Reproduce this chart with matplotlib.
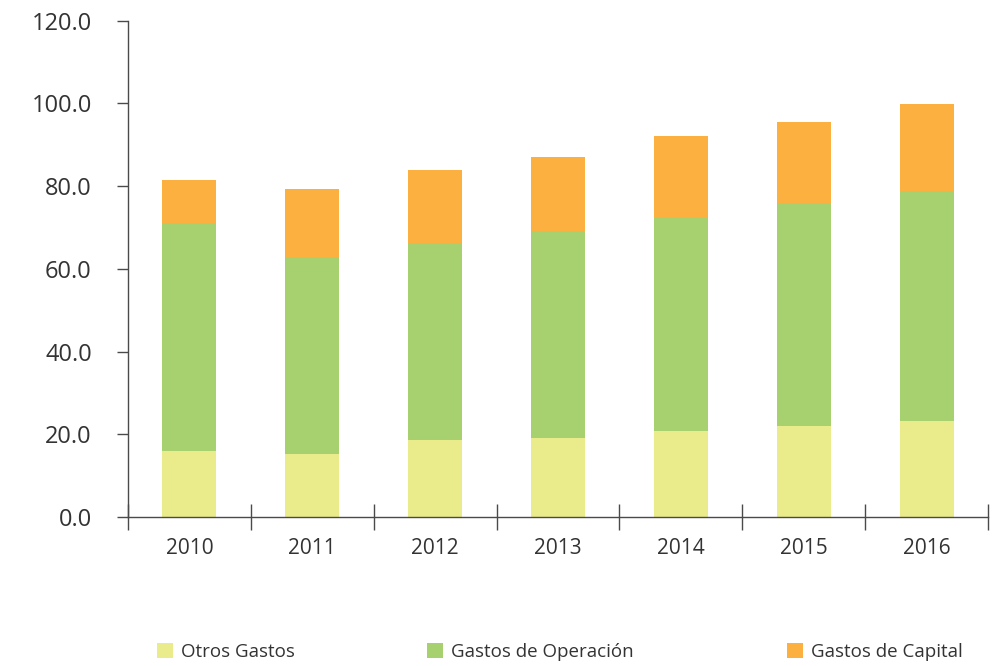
import matplotlib.pyplot as plt
from matplotlib.patches import Patch

plt.rcParams["font.family"] = ["Open Sans", "DejaVu Sans"]

years = ["2010", "2011", "2012", "2013", "2014", "2015", "2016"]
otros_gastos = [16.0, 15.3, 18.7, 19.2, 20.7, 21.9, 23.3]
gastos_operacion = [55.0, 47.5, 47.5, 49.9, 51.5, 54.0, 55.5]
gastos_capital = [10.4, 16.4, 17.8, 17.9, 19.8, 19.5, 21.0]

series_names = ["Otros Gastos", "Gastos de Operación", "Gastos de Capital"]
colors = ["#EAEB8A", "#A7D16E", "#FCB040"]
text_color = "#333333"
axis_color = "#4a4a4a"

fig = plt.figure(figsize=(9.92, 6.66), dpi=100)
ax = fig.add_axes([0.129, 0.2237, 0.867, 0.7453])

x = range(len(years))
bottom = [0.0] * len(years)
for values, color in zip([otros_gastos, gastos_operacion, gastos_capital], colors):
    ax.bar(x, values, width=0.44, bottom=bottom, color=color, linewidth=0)
    bottom = [b + v for b, v in zip(bottom, values)]

ax.set_xlim(-0.5, len(years) - 0.5)
ax.set_ylim(0, 120)
ax.set_yticks(range(0, 121, 20))
ax.set_yticklabels([f"{v:.1f}" for v in range(0, 121, 20)])

# tick marks sit between the years, labels on the minor ticks centred on each bar
ax.set_xticks([i - 0.5 for i in range(len(years) + 1)])
ax.set_xticklabels([])
ax.set_xticks(list(x), minor=True)
ax.set_xticklabels(years, minor=True)
ax.tick_params(axis="x", which="major", direction="inout", length=19, width=1, color=axis_color)
ax.tick_params(axis="x", which="minor", length=0, pad=15, labelsize=15, labelcolor=text_color)
ax.tick_params(axis="y", direction="out", length=8, width=1, color=axis_color,
               labelsize=17, labelcolor=text_color, pad=18)

for side in ["top", "right"]:
    ax.spines[side].set_visible(False)
for side in ["left", "bottom"]:
    ax.spines[side].set_color(axis_color)
    ax.spines[side].set_linewidth(1)

# one legend entry per series, spread along the bottom of the figure
legend_x = [0.141, 0.413, 0.776]
for name, color, lx in zip(series_names, colors, legend_x):
    fig.legend([Patch(facecolor=color, edgecolor="none")], [name],
               loc="lower left", bbox_to_anchor=(lx, -0.018), frameon=False,
               fontsize=13.5, handlelength=0.85, handleheight=0.85,
               handletextpad=0.45, labelcolor=text_color)

fig.savefig("out.png", dpi=100)
